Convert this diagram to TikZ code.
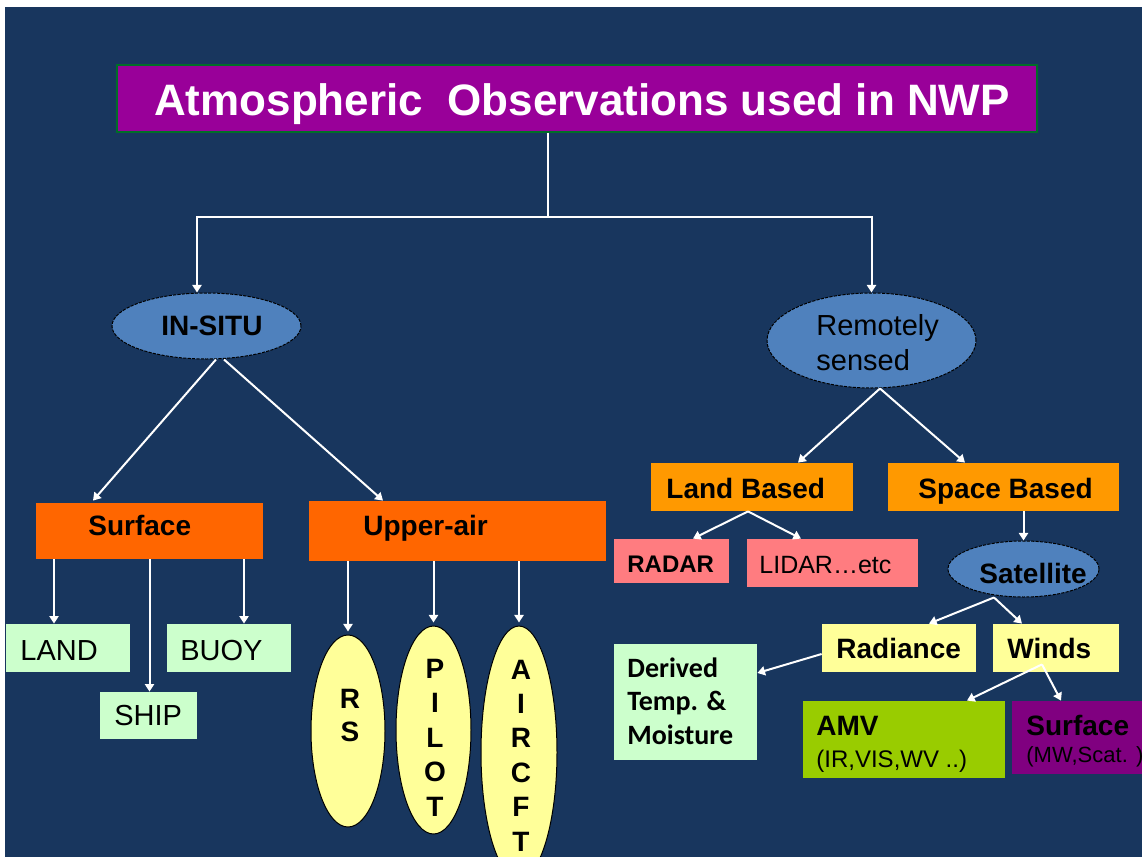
\documentclass[tikz,border=0pt]{standalone}
\usepackage{fontspec}
\setmainfont{Liberation Sans}
\newfontfamily\carl{Carlito}
\usetikzlibrary{shapes.geometric,arrows.meta,calc}
\definecolor{bgblue}{RGB}{24,54,94}
\definecolor{titlepurple}{RGB}{153,0,153}
\definecolor{titleborder}{RGB}{0,110,40}
\definecolor{ellblue}{RGB}{79,129,189}
\definecolor{deeporange}{RGB}{255,102,0}
\definecolor{lightorange}{RGB}{255,153,0}
\definecolor{salmon}{RGB}{255,124,128}
\definecolor{mintgreen}{RGB}{204,255,204}
\definecolor{paleyellow}{RGB}{255,255,153}
\definecolor{amvgreen}{RGB}{153,204,0}
\definecolor{darkpurple}{RGB}{128,0,128}
\newcommand\fsz[1]{\fontsize{#1}{#1}\selectfont}
\tikzset{
  boxnode/.style={rectangle, inner sep=0pt, anchor=center},
  blueell/.style={ellipse, inner sep=0pt, fill=ellblue, draw=black, line width=0.5pt, dash pattern=on 1.6pt off 0.6pt},
  yellell/.style={ellipse, inner sep=0pt, fill=paleyellow, draw=black, line width=0.5pt},
  txt/.style={anchor=base west, inner sep=0pt, text=black},
  ctxt/.style={anchor=base, inner sep=0pt, text=black},
  conn/.style={draw=white, line width=1pt},
  arr/.style={conn, -{Triangle[length=3.8pt,width=4.6pt]}},
}
\begin{document}
\begin{tikzpicture}[x=0.5pt,y=-0.5pt]
\useasboundingbox (0,0) rectangle (1142,857);
\clip (0,0) rectangle (1142,857);
\fill[white] (0,0) rectangle (1142,857);
\fill[bgblue] (5,7) rectangle (1142,857);

% title
\node[boxnode, fill=titlepurple, draw=titleborder, line width=0.8pt, minimum width=460pt, minimum height=33.5pt] (title) at (577,98.5) {};
\node[ctxt, text=white] (titleT) at (582,115) {\fsz{22pt}\bfseries Atmospheric\ \ Observations used in NWP};

% ellipses level 1
\node[blueell, minimum width=94.5pt, minimum height=33pt] (insitu) at (206.5,326) {};
\node[txt] (insituT) at (161,335) {\fsz{14pt}\bfseries IN-SITU};
\node[blueell, minimum width=104.5pt, minimum height=47.5pt] (remote) at (871.5,340.5) {};
\node[txt] (remoteT1) at (816,335) {\fsz{14.5pt}Remotely};
\node[txt] (remoteT2) at (816,370) {\fsz{14.5pt}sensed};

% in-situ branch
\node[boxnode, fill=deeporange, minimum width=113.5pt, minimum height=28pt] (surface) at (149.5,531) {};
\node[txt] (surfaceT) at (88,535) {\fsz{14pt}\bfseries Surface};
\node[boxnode, fill=deeporange, minimum width=148.5pt, minimum height=30pt] (upper) at (457.5,531) {};
\node[txt] (upperT) at (363,535) {\fsz{14pt}\bfseries Upper-air};

\node[boxnode, fill=mintgreen, minimum width=62pt, minimum height=24pt] (land) at (68,648) {};
\node[txt] (landT) at (20,660) {\fsz{14.5pt}LAND};
\node[boxnode, fill=mintgreen, minimum width=62pt, minimum height=24pt] (buoy) at (229,648) {};
\node[txt] (buoyT) at (180,660) {\fsz{14.5pt}BUOY};
\node[boxnode, fill=mintgreen, minimum width=48.5pt, minimum height=23.5pt] (ship) at (148.5,715.5) {};
\node[txt] (shipT) at (114,725) {\fsz{14.5pt}SHIP};

\node[yellell, minimum width=37pt, minimum height=96pt] (rs) at (348,731) {};
\node[ctxt] (rsR) at (350,708) {\fsz{14pt}\bfseries R};
\node[ctxt] (rsS) at (350,741) {\fsz{14pt}\bfseries S};

\node[yellell, minimum width=37.5pt, minimum height=104pt] (pilot) at (433.5,730) {};
\foreach \l/\yy [count=\i] in {P/678,I/712.5,L/747,O/781.5,T/816}
  \node[ctxt] (pilot\i) at (435,\yy) {\fsz{14pt}\bfseries \l};

\node[yellell, minimum width=38pt, minimum height=126.5pt] (aircft) at (519,752.5) {};
\foreach \l/\yy [count=\i] in {A/679,I/713.4,R/747.8,C/782.2,F/816.6,T/851}
  \node[ctxt] (aircft\i) at (521,\yy) {\fsz{14pt}\bfseries \l};

% remote branch
\node[boxnode, fill=lightorange, minimum width=101pt, minimum height=24pt] (landb) at (752,487) {};
\node[txt] (landbT) at (666,498) {\fsz{14pt}\bfseries Land Based};
\node[boxnode, fill=lightorange, minimum width=115.5pt, minimum height=24pt] (spaceb) at (1003.5,487) {};
\node[txt] (spacebT) at (918,498) {\fsz{14pt}\bfseries Space Based};

\node[boxnode, fill=salmon, minimum width=57.5pt, minimum height=22pt] (radar) at (671.5,561) {};
\node[txt] (radarT) at (627,572) {\fsz{12pt}\bfseries RADAR};
\node[boxnode, fill=salmon, minimum width=85.5pt, minimum height=24pt] (lidar) at (832.5,563) {};
\node[txt] (lidarT) at (759,573) {\fsz{12.5pt}LIDAR…etc};

\node[blueell, minimum width=75.5pt, minimum height=28pt] (sat) at (1023.5,569) {};
\node[txt] (satT) at (979,583) {\fsz{14pt}\bfseries Satellite};

\node[boxnode, fill=paleyellow, minimum width=77pt, minimum height=24pt] (radiance) at (899,648) {};
\node[txt] (radianceT) at (836,658) {\fsz{14pt}\bfseries Radiance};
\node[boxnode, fill=paleyellow, minimum width=63pt, minimum height=24pt] (winds) at (1056,648) {};
\node[txt] (windsT) at (1007,658) {\fsz{14pt}\bfseries Winds};

\node[boxnode, fill=mintgreen, minimum width=71.5pt, minimum height=58pt] (derived) at (685.5,702) {};
\node[txt] (derivedT1) at (627,677) {\carl\fsz{14pt}\bfseries Derived};
\node[txt] (derivedT2) at (627,710) {\carl\fsz{14pt}\bfseries Temp. \&};
\node[txt] (derivedT3) at (627,744) {\carl\fsz{14pt}\bfseries Moisture};

\node[boxnode, fill=amvgreen, minimum width=101pt, minimum height=38.5pt] (amv) at (904,739.5) {};
\node[txt] (amvT1) at (816,735) {\fsz{14pt}\bfseries AMV};
\node[txt] (amvT2) at (816,767) {\fsz{12pt}(IR,VIS,WV ..)};
\node[boxnode, fill=darkpurple, minimum width=69pt, minimum height=36.5pt] (surf2) at (1081,737.5) {};
\node[txt] (surf2T1) at (1026,735) {\fsz{14pt}\bfseries Surface};
\node[txt] (surf2T2) at (1026,762) {\fsz{11pt}(MW,Scat. )};

% connectors
\coordinate (junction) at (548,217);
\draw[conn] (title.south -| junction) -- (junction);
\draw[arr] (junction) -| ([xshift=-4.75pt]insitu.north);
\draw[arr] (junction) -| (remote.north);

\draw[arr] ([xshift=4.75pt]insitu.south) -- ([xshift=-28.25pt,yshift=1pt]surface.north);
\draw[arr] ([xshift=8.75pt]insitu.south) -- ([xshift=-37.25pt,yshift=0pt]upper.north);

\draw[arr] ([xshift=-47.75pt]surface.south) -- ([xshift=-7pt]land.north);
\draw[arr] (surface.south) -- (surface.south |- ship.north);
\draw[arr] ([xshift=47.25pt]surface.south) -- ([xshift=7.5pt]buoy.north);

\draw[arr] (upper.south -| rs.north) -- ([yshift=1.5pt]rs.north);
\draw[arr] (upper.south -| pilot.north) -- ([yshift=1.5pt]pilot.north);
\draw[arr] (upper.south -| aircft.north) -- ([yshift=1.5pt]aircft.north);

\draw[arr] ([xshift=4.25pt]remote.south) -- ([xshift=23pt]landb.north);
\draw[arr] ([xshift=4.25pt]remote.south) -- ([xshift=-19.25pt]spaceb.north);

\draw[arr] ([xshift=-2pt]landb.south) -- ([xshift=10.75pt]radar.north);
\draw[arr] ([xshift=-2pt]landb.south) -- ([xshift=-15.75pt]lidar.north);

\draw[arr] (spaceb.south -| sat.north) -- (sat.north);

\draw[arr] ([xshift=-14.75pt]sat.south) -- ([xshift=15pt]radiance.north);
\draw[arr] ([xshift=-14.75pt]sat.south) -- ([xshift=-17pt]winds.north);

\draw[arr] ([yshift=-3pt]radiance.west) -- ([yshift=14.5pt]derived.east);

\draw[arr] ([xshift=-7pt,yshift=4pt]winds.south) -- ([xshift=31.5pt]amv.north);
\draw[arr] ([xshift=-7pt,yshift=4pt]winds.south) -- ([xshift=-10pt]surf2.north);
\end{tikzpicture}
\end{document}
